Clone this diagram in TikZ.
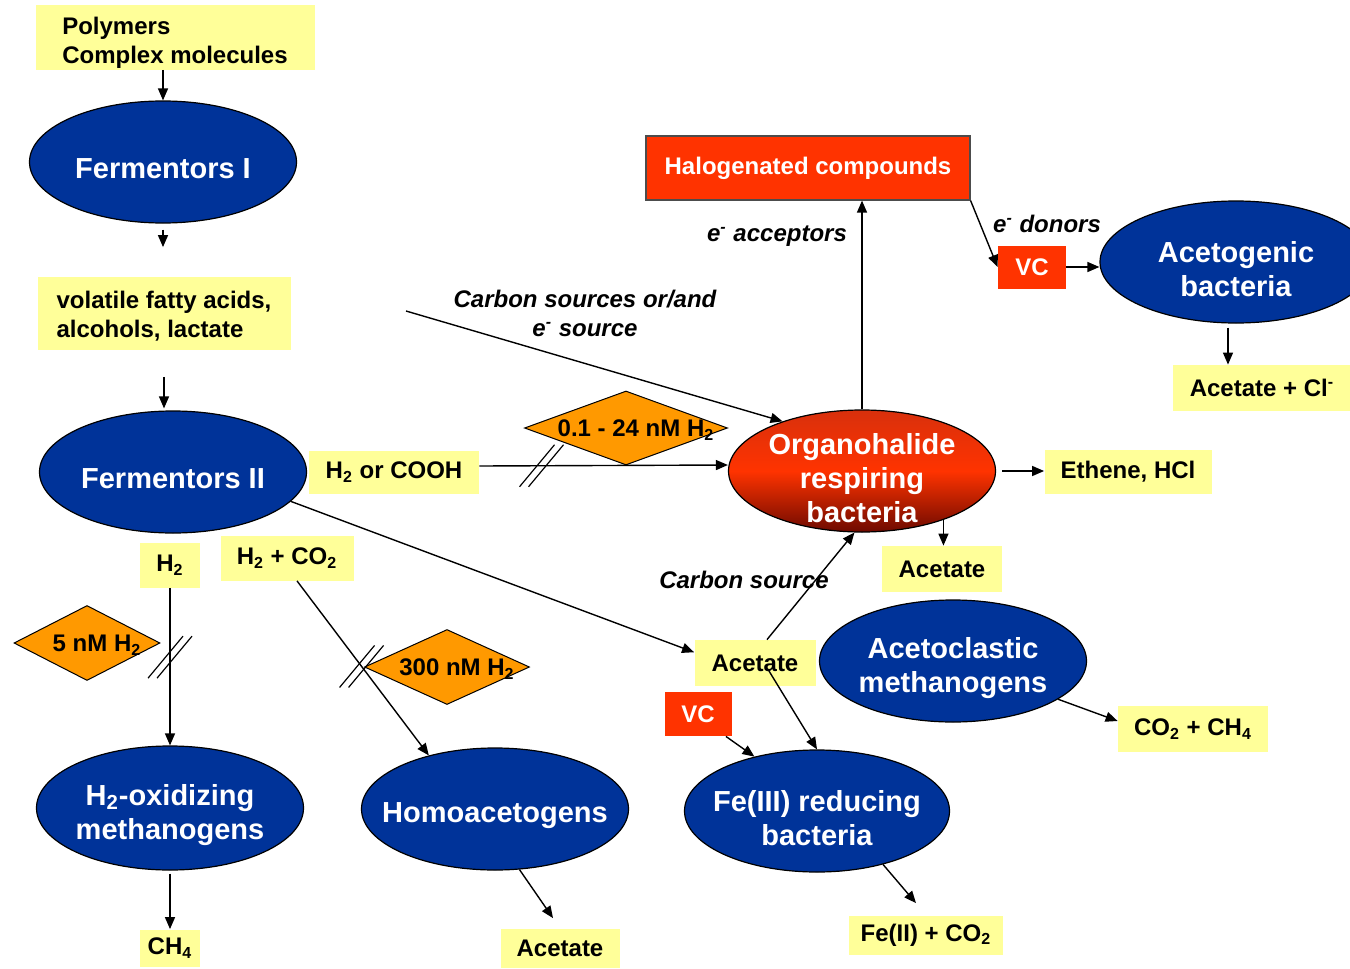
\documentclass[tikz,border=0pt]{standalone}
\usepackage{fontspec}
\setmainfont{Liberation Sans}
\usetikzlibrary{shapes.geometric, arrows.meta, calc}
\definecolor{bacblue}{HTML}{003399}
\definecolor{boxyellow}{HTML}{FFFF99}
\definecolor{gateorange}{HTML}{FF9900}
\definecolor{halred}{HTML}{FF3300}
\definecolor{ohrtop}{HTML}{D8300C}
\definecolor{ohrbottom}{HTML}{6E0A00}

\begin{document}
\begin{tikzpicture}[
    x=0.5pt, y=-0.5pt,
    font=\bfseries,
    organism/.style={ellipse, draw=black, line width=0.6pt, fill=bacblue, inner sep=0pt,
        minimum width=133.5pt, minimum height=61pt, label={[orgtext]center:#1}},
    orgtext/.style={text=white, align=center, yshift=-3.5pt, font=\bfseries\fontsize{14.5}{17}\selectfont},
    product/.style={fill=boxyellow, inner sep=0pt, align=center, font=\bfseries\fontsize{12}{14.5}\selectfont},
    redbox/.style={fill=halred, text=white, inner sep=0pt, font=\bfseries\fontsize{12}{14.5}\selectfont},
    gate/.style={diamond, draw=black, line width=0.5pt, fill=gateorange, inner sep=0pt, label={[gatetext]center:#1}},
    gatetext/.style={xshift=5pt, yshift=-1pt, font=\bfseries\fontsize{12}{14.5}\selectfont},
    note/.style={align=center, font=\bfseries\itshape\fontsize{12}{14.5}\selectfont},
    flow/.style={-{Triangle[length=6pt, width=5pt]}, line width=0.7pt},
    pics/cutmark/.style={code={
        \draw[line width=0.6pt] (-11pt,-10.5pt) -- (6.5pt,10.5pt);
        \draw[line width=0.6pt] (-6.5pt,-10.5pt) -- (11pt,10.5pt);}},
]
\useasboundingbox (0,0) rectangle (1350,969);
\fill[white] (0,0) rectangle (1350,969);

% Fermentation chain
\node[product, align=left, minimum width=139.5pt, minimum height=32.5pt] (poly) at (175,37) {\rule{0pt}{14pt}Polymers\\Complex molecules};
\node[organism={Fermentors I}] (fer1) at (163,162) {};
\node[product, align=left, minimum width=126.5pt, minimum height=36.5pt] (vfa) at (164,313) {\rule{0pt}{12pt}volatile fatty acids,\\alcohols, lactate};
\node[organism={Fermentors II}] (fer2) at (173,472) {};

% Hydrogen users
\node[product, minimum width=30pt, minimum height=22.5pt] (h2) at (170,565) {H\textsubscript{2}};
\node[gate={5 nM H\textsubscript{2}}, minimum width=73pt, minimum height=37.5pt] (dg2) at (87,643) {};
\node[organism={H\textsubscript{2}-oxidizing\\methanogens}, minimum height=62pt] (h2ox) at (170,808) {};
\node[product, minimum width=30pt, minimum height=18.5pt] (ch4) at (170,948) {CH\textsubscript{4}};
\node[product, minimum width=66.5pt, minimum height=22.5pt] (h2co2) at (287,558) {H\textsubscript{2} + CO\textsubscript{2}};
\node[gate={300 nM H\textsubscript{2}}, minimum width=82.5pt, minimum height=37.5pt] (dg3) at (447,667) {};
\node[organism={Homoacetogens}] (homo) at (495,809) {};
\node[product, minimum width=59.5pt, minimum height=19.5pt] (ac3) at (560,948) {Acetate};

% Organohalide respiration
\node[product, minimum width=85pt, minimum height=21.5pt] (h2c) at (394,472) {H\textsubscript{2} or COOH};
\node[gate={0.1 - 24 nM H\textsubscript{2}}, minimum width=101.5pt, minimum height=37pt] (dg1) at (626,428) {};
\node[organism={Organohalide\\respiring\\bacteria}, top color=ohrtop, bottom color=ohrbottom, middle color=halred] (orb) at (862,471) {};
\node[redbox, draw=black!70, line width=0.6pt, minimum width=162pt, minimum height=32pt] (hal) at (808,168) {Halogenated compounds};
\node[redbox, minimum width=34pt, minimum height=21.5pt] (vc1) at (1032,267) {VC};
\node[organism={Acetogenic\\bacteria}, minimum width=136pt] (acg) at (1236,262) {};
\node[product, minimum width=89pt, minimum height=23pt] (accl) at (1262,388) {Acetate + Cl\textsuperscript{-}};
\node[product, minimum width=83.5pt, minimum height=22pt] (eth) at (1128,472) {Ethene, HCl};
\node[product, minimum width=60pt, minimum height=23pt] (ac1) at (942,569) {Acetate};

% Acetate users
\node[organism={Acetoclastic\\methanogens}] (acm) at (953,661) {};
\node[product, minimum width=75pt, minimum height=23pt] (cc) at (1193,729) {CO\textsubscript{2} + CH\textsubscript{4}};
\node[product, minimum width=60.5pt, minimum height=23pt] (ac2) at (755,663) {Acetate};
\node[redbox, minimum width=33.5pt, minimum height=22pt] (vc2) at (698,714) {VC};
\node[organism={Fe(III) reducing\\bacteria}, minimum width=132.5pt] (fe3) at (817,811) {};
\node[product, minimum width=77pt, minimum height=19.5pt] (fe2) at (926,935) {Fe(II) + CO\textsubscript{2}};

% Labels
\node[note] (lacc) at (777,236) {e\textsuperscript{-} acceptors};
\node[note] (ldon) at (1047,224) {e\textsuperscript{-} donors};
\node[note] (lsrcs) at (585,313) {Carbon sources or/and\\e\textsuperscript{-} source};
\node[note] (lsrc) at (744,580) {Carbon source};
\coordinate (csin) at (406,311);

% Connectors
\draw[flow] (fer1.north |- poly.south) -- (fer1.north);
\draw[flow, shorten <=3pt, shorten >=14.5pt] (fer1.south) -- (fer1.south |- vfa.north);
\draw[flow, shorten <=13.5pt, shorten >=1pt] (vfa.south) -- (vfa.south |- fer2.north);
\draw[flow] (h2.south) -- (h2ox.north);
\draw[flow, shorten <=1.5pt] (h2ox.south) -- (h2ox.south |- ch4.north);
\draw[flow] ([xshift=5pt]h2co2.south) -- (homo.141);
\draw[flow] (homo.-68) -- ([xshift=-3.5pt, yshift=5pt]ac3.north);
\draw[flow] ([yshift=3pt]h2c.east) -- ([yshift=3pt]orb.west);
\draw[flow] (csin) -- (orb.148);
\draw[flow] (orb.north) -- (orb.north |- hal.south);
\draw[flow] (hal.south east) -- (vc1.west);
\draw[flow] (vc1.east) -- (vc1.east -| acg.west);
\draw[flow, shorten <=2pt] ([xshift=-4pt]acg.south) -- ([xshift=-4pt]acg.south |- accl.north);
\draw[flow, shorten <=3pt] (orb.east) -- (orb.east -| eth.west);
\draw[flow] (orb.-31.5) -- (orb.-31.5 |- ac1.north);
\draw[flow] (acm.-20.6) -- ([yshift=4pt]cc.west);
\draw[flow] (fer2.-14) -- (ac2.170);
\draw[flow] ([xshift=6pt]ac2.north) -- (orb.-97);
\draw[flow] ([xshift=7pt, yshift=-4pt]ac2.center) -- (fe3.north);
\draw[flow] ([xshift=-3pt]vc2.south east) -- (fe3.139);
\draw[flow] (fe3.-39) -- ([xshift=-5pt, yshift=6pt]fe2.north);

% Threshold breaks
\pic at ($([yshift=3pt]h2c.east)!0.25!([yshift=3pt]orb.west)$) {cutmark};
\pic at ($(h2.south)!0.44!(h2ox.north)$) {cutmark};
\pic at ($([xshift=5pt]h2co2.south)!0.49!(homo.141)$) {cutmark};

\end{tikzpicture}
\end{document}
